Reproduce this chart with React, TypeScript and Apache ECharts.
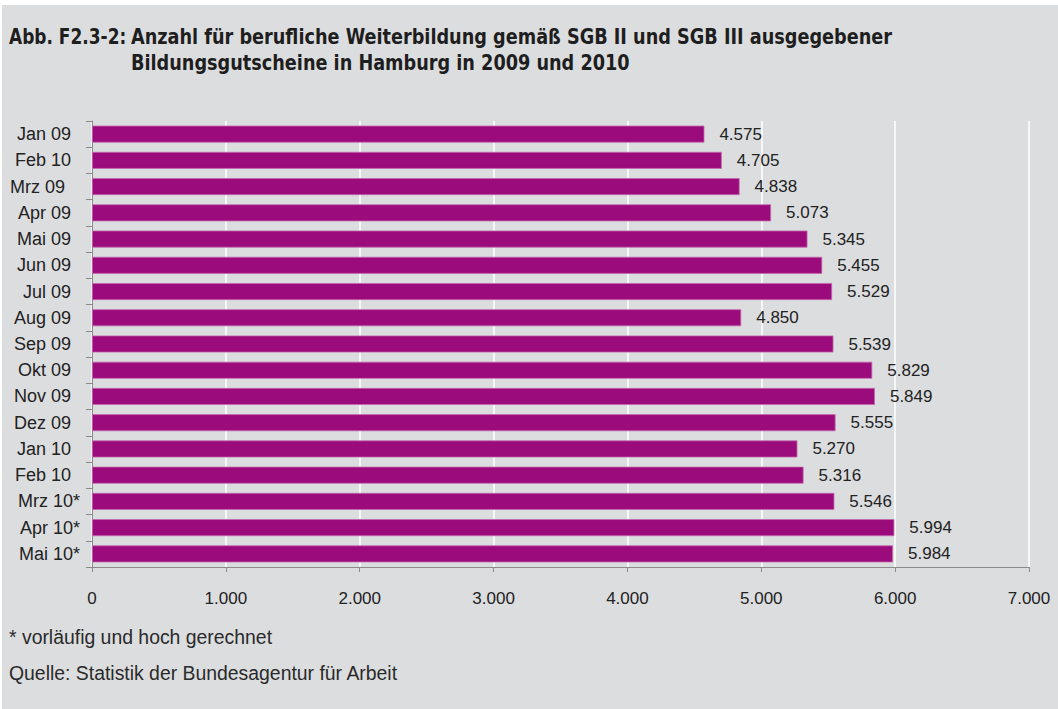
import React, { useEffect, useRef } from "react";
import * as echarts from "echarts";

const categories = [
  "Jan 09", "Feb 10", "Mrz 09 ", "Apr 09", "Mai 09", "Jun 09", "Jul 09", "Aug 09",
  "Sep 09", "Okt 09", "Nov 09", "Dez 09", "Jan 10", "Feb 10", "Mrz 10*", "Apr 10*", "Mai 10*",
];
const values = [
  4575, 4705, 4838, 5073, 5345, 5455, 5529, 4850,
  5539, 5829, 5849, 5555, 5270, 5316, 5546, 5994, 5984,
];
const xTicks = { min: 0, max: 7000, interval: 1000 };
const titlePrefix = "Abb. F2.3-2:";
const titleLines = [
  "Anzahl für berufliche Weiterbildung gemäß SGB II und SGB III ausgegebener",
  "Bildungsgutscheine in Hamburg in 2009 und 2010",
];
const footnote = "* vorläufig und hoch gerechnet";
const source = "Quelle: Statistik der Bundesagentur für Arbeit";

const fmt = (v: number) => String(v).replace(/\B(?=(\d{3})+(?!\d))/g, ".");

const BODY_FONT = "'Liberation Sans', Arial, sans-serif";
const TITLE_FONT = "'DejaVu Sans Condensed', 'Liberation Sans', sans-serif";

export default function App() {
  const ref = useRef<HTMLDivElement>(null);
  useEffect(() => {
    if (!ref.current) return;
    const chart = echarts.init(ref.current, null, { renderer: "svg" });
    const titleFont = `bold 21px ${TITLE_FONT}`;
    chart.setOption({
      animation: false,
      backgroundColor: "#ffffff",
      graphic: [
        { type: "rect", x: 2, y: 5, shape: { width: 1056, height: 704 }, style: { fill: "#dcdddf" }, z: -10 },
        { type: "text", x: 9, y: 26, scaleX: 0.9, style: { text: titlePrefix, font: titleFont, fill: "#1e1e1e" } },
        { type: "text", x: 131, y: 26, scaleX: 0.936, style: { text: titleLines[0], font: titleFont, fill: "#1e1e1e" } },
        { type: "text", x: 131, y: 52, scaleX: 0.936, style: { text: titleLines[1], font: titleFont, fill: "#1e1e1e" } },
        { type: "text", x: 9, y: 627, style: { text: footnote, font: `19.4px ${BODY_FONT}`, fill: "#2a2a2a" } },
        { type: "text", x: 9, y: 663, style: { text: source, font: `19.4px ${BODY_FONT}`, fill: "#2a2a2a" } },
      ],
      grid: { left: 92, right: 29, top: 121, bottom: 142, containLabel: false },
      xAxis: {
        type: "value",
        min: xTicks.min,
        max: xTicks.max,
        interval: xTicks.interval,
        axisLine: { show: true, lineStyle: { color: "#8a8a8a", width: 1 } },
        axisTick: { show: true, length: 5, lineStyle: { color: "#8a8a8a" } },
        splitLine: { show: true, lineStyle: { color: "#ffffff", width: 1.5 } },
        axisLabel: {
          formatter: (v: number) => fmt(v),
          fontSize: 17,
          color: "#222",
          fontFamily: BODY_FONT,
          margin: 23,
        },
      },
      yAxis: {
        type: "category",
        data: categories,
        inverse: true,
        axisLine: { show: true, lineStyle: { color: "#8a8a8a", width: 1 } },
        axisTick: { show: true, length: 6, lineStyle: { color: "#8a8a8a" } },
        splitLine: { show: false },
        axisLabel: {
          fontSize: 18,
          color: "#222",
          fontFamily: BODY_FONT,
          margin: 12,
          formatter: (v: string) => {
            if (v.endsWith("*")) return `{s|${v}}`;
            if (v.endsWith(" ")) return `{w|${v.trim()}}`;
            return `{n|${v}}`;
          },
          rich: {
            s: { fontSize: 18, color: "#222", fontFamily: BODY_FONT, padding: [0, 0, 0, 0] },
            n: { fontSize: 18, color: "#222", fontFamily: BODY_FONT, padding: [0, 9, 0, 0] },
            w: { fontSize: 18, color: "#222", fontFamily: BODY_FONT, padding: [0, 15, 0, 0] },
          },
        },
      },
      series: [
        {
          type: "bar",
          data: values,
          barWidth: 17,
          itemStyle: { color: "#9b0b7c", borderColor: "#c46aae", borderWidth: 0.8 },
          label: {
            show: true,
            position: "right",
            distance: 15,
            formatter: (p: any) => fmt(p.value),
            fontSize: 17,
            color: "#222",
            fontFamily: BODY_FONT,
          },
        },
      ],
    });
    return () => chart.dispose();
  }, []);
  return (
    <div style={{ position: "fixed", left: 0, top: 0, width: 1058, height: 709 }}>
      <div ref={ref} style={{ width: 1058, height: 709 }} />
    </div>
  );
}
